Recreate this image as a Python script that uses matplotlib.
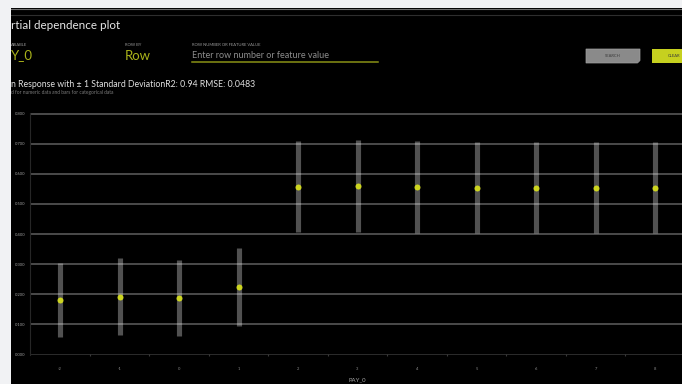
import matplotlib
matplotlib.use("Agg")
import matplotlib.pyplot as plt
from matplotlib.patches import Rectangle, Polygon

plt.rcParams["font.family"] = ["Lato", "DejaVu Sans"]

# PAY_0 levels and the partial dependence (mean response and standard deviation)
categories = ["-2", "-1", "0", "1", "2", "3", "4", "5", "6", "7", "8"]
mean_response = [0.180, 0.191, 0.186, 0.224, 0.558, 0.559, 0.557, 0.554, 0.554, 0.554, 0.554]
std_dev = [0.124, 0.128, 0.126, 0.131, 0.153, 0.154, 0.153, 0.151, 0.151, 0.151, 0.151]
y_ticks = [0.0, 0.1, 0.2, 0.3, 0.4, 0.5, 0.6, 0.7, 0.8]
y_tick_labels = ["0.000", "0.100", "0.200", "0.300", "0.400", "0.500", "0.600", "0.700", "0.800"]

W, H = 682, 384
ACCENT = "#cdd520"
OLIVE = "#aab31a"

fig = plt.figure(figsize=(W / 100, H / 100), dpi=100)
fig.patch.set_facecolor("#f1f2f4")


def fig_rect(x0, y0, x1, y1):
    """Pixel box (top-left origin) -> figure fraction rect."""
    return [x0 / W, 1 - y1 / H, (x1 - x0) / W, (y1 - y0) / H]


# Dark application panel, with pixel coordinates for the controls
panel = fig.add_axes(fig_rect(11, 8, W, H))
panel.set_xlim(11, W)
panel.set_ylim(H, 8)
panel.set_facecolor("#000000")
panel.set_xticks([])
panel.set_yticks([])
for s in panel.spines.values():
    s.set_visible(False)

panel.plot([11, W], [8.5, 8.5], color="#6e6e6e", lw=0.8)
panel.plot([11, W], [15, 15], color="#2e2e2e", lw=0.8)

panel.text(11, 25, "rtial dependence plot", color="#e6e6e6", fontsize=8.4,
           va="center", ha="left")

# Field labels
small = dict(color="#9a9a9a", fontsize=3.0, va="center", ha="left")
panel.text(11, 44.5, "ARIABLE", **small)
panel.text(125, 44.5, "ROW BY", **small)
panel.text(192, 44.5, "ROW NUMBER OR FEATURE VALUE", **small)

panel.text(11, 55.5, "Y_0", color=OLIVE, fontsize=9.5, va="center", ha="left")
panel.text(125, 55.5, "Row", color=OLIVE, fontsize=9.5, va="center", ha="left")
panel.text(192.5, 55.5, "Enter row number or feature value", color="#8c8c8c",
           fontsize=6.5, va="center", ha="left")
panel.plot([192, 378], [61.5, 61.5], color="#8a9216", lw=1.1)

# Buttons
panel.add_patch(Polygon([[586, 49], [640, 49], [640, 60.5], [637.5, 63], [586, 63]],
                        closed=True, facecolor="#8a8a8a", edgecolor="#a0a0a0", lw=0.5))
panel.text(613, 56, "SEARCH", color="#3a3a3a", fontsize=3.0, ha="center", va="center")
panel.add_patch(Rectangle((652, 49), 60, 14, facecolor="#c6d01f", edgecolor="none"))
panel.text(667.5, 56, "CLEAR", color="#3a3a3a", fontsize=3.0, ha="left", va="center")

panel.text(11, 84.3, "n Response with \u00b1 1 Standard DeviationR2: 0.94 RMSE: 0.0483",
           color="#e0e0e0", fontsize=6.35, va="center", ha="left")
panel.text(11, 92, "d for numeric data and bars for categorical data",
           color="#7a7a7a", fontsize=3.5, va="center", ha="left")

# Partial dependence chart
ax = fig.add_axes(fig_rect(30.25, 113, 684.75, 355))
ax.patch.set_visible(False)
x = list(range(len(categories)))
ax.set_xlim(-0.5, len(categories) - 0.5)
ax.set_ylim(-0.00333, 0.80333)

for t in y_ticks[1:]:
    ax.axhline(t, color="#5e5e5e", lw=1.1, zorder=1)
ax.axhline(0.0, color="#2c2c2c", lw=0.7, zorder=1)

lows = [m - s for m, s in zip(mean_response, std_dev)]
highs = [m + s for m, s in zip(mean_response, std_dev)]
ax.vlines(x, lows, highs, color=(1, 1, 1, 0.32), lw=3.7, capstyle="butt", zorder=2)
ax.plot(x, mean_response, "o", color=ACCENT, markersize=4.3, markeredgewidth=0, zorder=3)

ax.set_yticks(y_ticks)
ax.set_yticklabels(y_tick_labels)
ax.set_xticks(x)
ax.set_xticklabels(categories)
ax.set_xticks([i + 0.5 for i in x[:-1]], minor=True)
ax.tick_params(axis="y", length=0, pad=3.2, labelsize=3.0, labelcolor="#a0a0a0")
ax.tick_params(axis="x", which="major", length=0, pad=8.5, labelsize=3.0, labelcolor="#8a8a8a")
ax.tick_params(axis="x", which="minor", length=1.2, width=0.8, color="#3a3a3a", direction="inout")
ax.set_xlabel("PAY_0", color="#a8a8a8", fontsize=4.3, labelpad=4.5)

for side in ("top", "right", "bottom"):
    ax.spines[side].set_visible(False)
ax.spines["left"].set_color("#262626")
ax.spines["left"].set_linewidth(0.8)

fig.savefig("out.png", dpi=100, facecolor=fig.get_facecolor())
